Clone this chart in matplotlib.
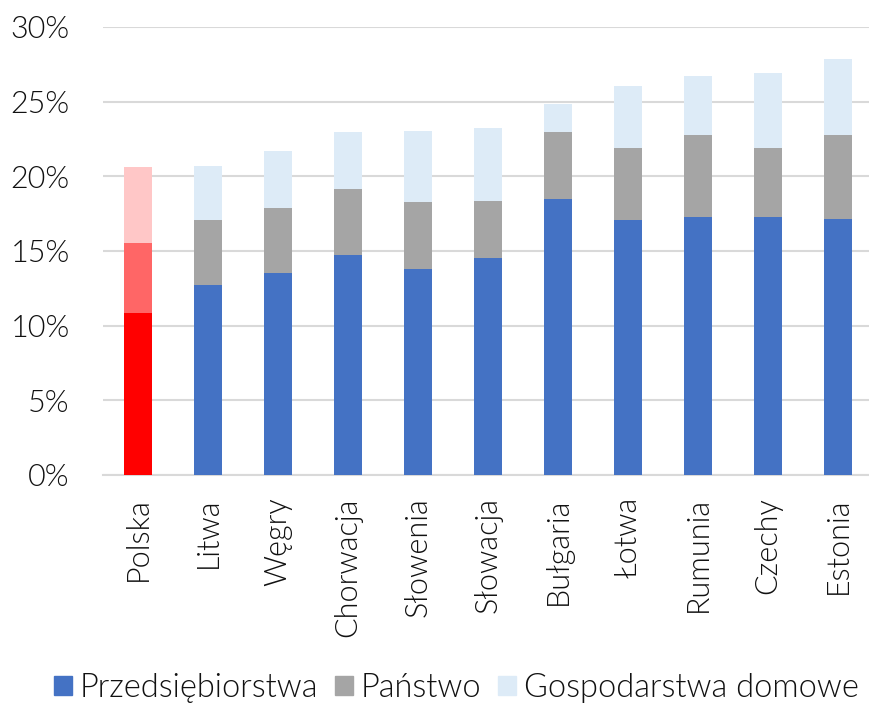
import matplotlib.pyplot as plt
import numpy as np
from matplotlib.patches import Patch

countries = ['Polska', 'Litwa', 'Węgry', 'Chorwacja', 'Słowenia', 'Słowacja',
             'Bułgaria', 'Łotwa', 'Rumunia', 'Czechy', 'Estonia']
# cumulative tops (%)
top_firms = [10.85, 12.7, 13.5, 14.7, 13.8, 14.5, 18.45, 17.05, 17.3, 17.3, 17.15]
top_state = [15.55, 17.1, 17.85, 19.15, 18.3, 18.35, 22.95, 21.9, 22.75, 21.9, 22.8]
top_house = [20.65, 20.7, 21.7, 23.0, 23.05, 23.25, 24.85, 26.05, 26.75, 26.95, 27.85]
series_names = ['Przedsiębiorstwa', 'Państwo', 'Gospodarstwa domowe']

firms = np.array(top_firms)
state = np.array(top_state) - firms
house = np.array(top_house) - np.array(top_state)

blue, gray, light = '#4472C4', '#A5A5A5', '#DDEBF7'
reds = ['#FF0000', '#FF6666', '#FFC7C7']

plt.rcParams['font.family'] = ['Lato', 'DejaVu Sans']
plt.rcParams['font.weight'] = 300

fig = plt.figure(figsize=(8.69, 7.03), dpi=100)
ax = fig.add_axes([103 / 869, 1 - 475 / 703, 770 / 869, 448 / 703])

x = np.arange(len(countries))
c1 = [reds[0]] + [blue] * (len(x) - 1)
c2 = [reds[1]] + [gray] * (len(x) - 1)
c3 = [reds[2]] + [light] * (len(x) - 1)
ax.bar(x, firms, 0.4, color=c1, zorder=3)
ax.bar(x, state, 0.4, bottom=firms, color=c2, zorder=3)
ax.bar(x, house, 0.4, bottom=firms + state, color=c3, zorder=3)

ax.set_xlim(-0.5, len(x) - 0.5)
ax.set_ylim(0, 30)
ax.set_yticks(np.arange(0, 31, 5))
ax.set_yticklabels([f'{v}%' for v in range(0, 31, 5)])
ax.yaxis.grid(True, color='#D9D9D9', linewidth=1.5, zorder=0)
ax.set_xticks(x)
ax.set_xticklabels(countries, rotation=90)
ax.tick_params(axis='both', length=0, labelsize=22, labelcolor='#111111')
ax.tick_params(axis='y', pad=24)
ax.tick_params(axis='x', pad=16)
for s in ['top', 'right', 'left']:
    ax.spines[s].set_visible(False)
ax.spines['bottom'].set_color('#D9D9D9')
ax.spines['bottom'].set_linewidth(1.5)

handles = [Patch(color=c) for c in [blue, gray, light]]
fig.legend(handles, series_names, loc='center', bbox_to_anchor=(0.525, 1 - 688 / 703),
           ncol=3, frameon=False, fontsize=23.5, handlelength=0.55, handleheight=0.55,
           handletextpad=0.25, columnspacing=0.5, labelcolor='#111111')

fig.savefig('out.png', dpi=100, facecolor='white')
